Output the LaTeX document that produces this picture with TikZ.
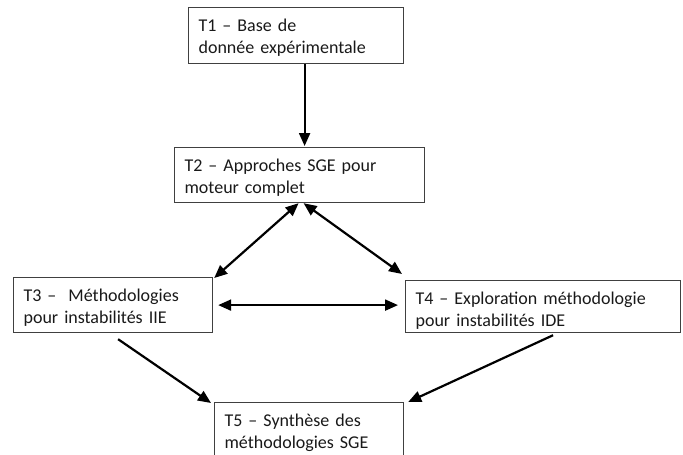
\documentclass[tikz,border=0pt]{standalone}
\usepackage{fontspec}
\setmainfont{Carlito}
\usetikzlibrary{arrows.meta,calc}

\begin{document}
\begin{tikzpicture}
  [x=1pt,y=-1pt,>={Triangle[length=13pt,width=11pt]}]
      \tikzstyle{box_style} = [draw=black!75, line width=1.2pt, anchor=north west, inner xsep=10pt, inner ysep=0pt, align=left, text height=24pt, font=\fontsize{18}{22}\selectfont, text=black!90]
      \tikzstyle{edge_style} = [draw=black, line width=2.2pt]
  \useasboundingbox (0,0) rectangle (683,455);
  \clip (0,0) rectangle (683,455);
  \node[box_style, text width=195pt, text depth=32pt] (t1) at (188,7) {T1 – Base de\\donnée expérimentale};
  \node[box_style, text width=230pt, text depth=31pt] (t2) at (174,147) {T2 – Approches SGE pour\\moteur complet};
  \node[box_style, text width=179pt, text depth=31pt] (t3) at (13,277) {T3 –~ Méthodologies\\pour instabilités IIE};
  \node[box_style, text width=255pt, text depth=28pt] (t4) at (405,280) {T4 – Exploration méthodologie\\pour instabilités IDE};
  \node[box_style, text width=169pt, text depth=40pt] (t5) at (214,402) {T5 – Synthèse des\\méthodologies SGE};
  \draw[edge_style, ->] ($(t1.south)+(8.5,0)$) -- ($(t2.north)+(5,-1)$);
  \draw[edge_style, <->] ($(t2.south)+(-1,0)$) -- ($(t3.north east)+(1,1)$);
  \draw[edge_style, <->] ($(t2.south)+(4,0)$) -- ($(t4.north west)+(-3,-6)$);
  \draw[edge_style, <->, shorten <=5pt, shorten >=7pt] (t3.east) -- (t3.east -| t4.west);
  \draw[edge_style, ->] ($(t3.south)+(5,6)$) -- ($(t5.north west)+(-3,1)$);
  \draw[edge_style, ->] ($(t4.south)+(10,2)$) -- ($(t5.north east)+(4,0)$);
\end{tikzpicture}
\end{document}
